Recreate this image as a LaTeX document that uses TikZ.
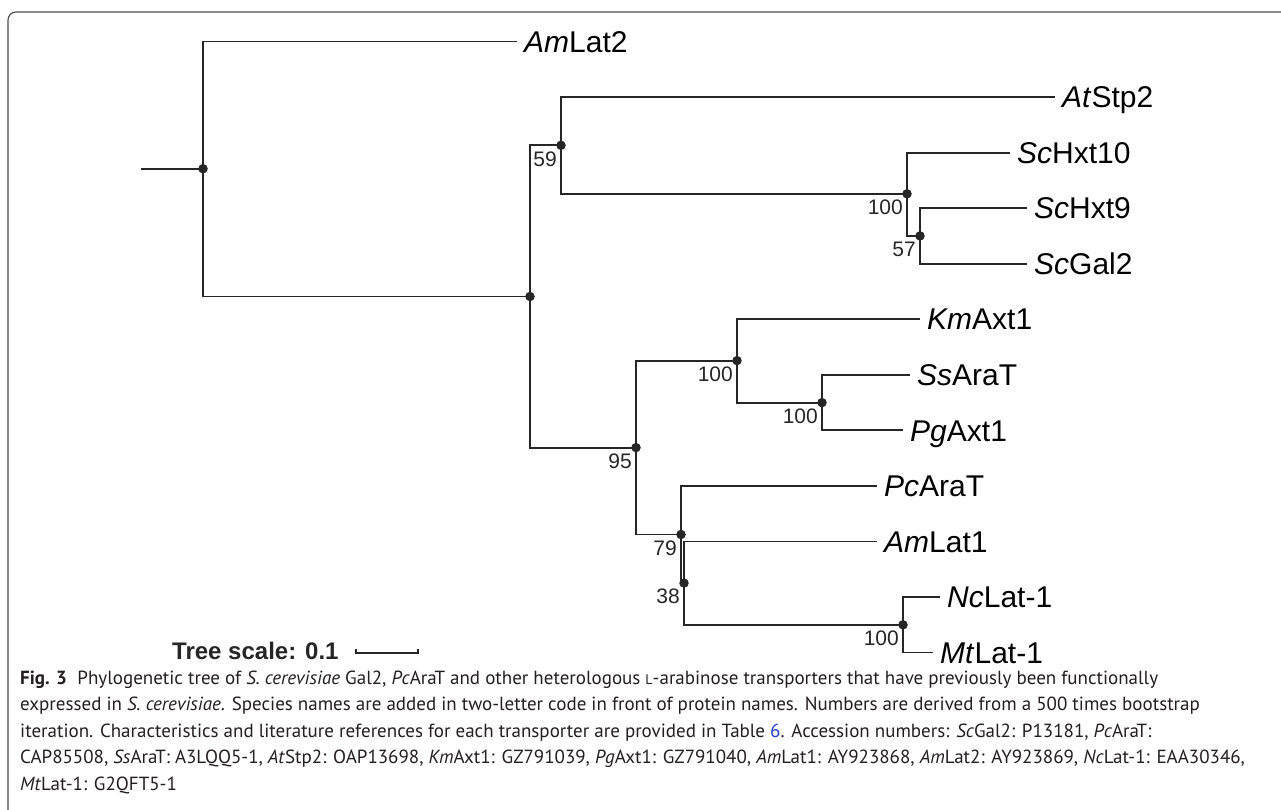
\documentclass[tikz,border=0pt]{standalone}
\usepackage{fontspec}
\setmainfont{Liberation Sans}
\newfontfamily\capfont{PT Sans}
\definecolor{treecol}{HTML}{262626}
\definecolor{framecol}{HTML}{4D4D4D}
\definecolor{capcol}{HTML}{231F20}
\definecolor{linkcol}{HTML}{1F3FD0}
\tikzset{
 branch/.style={draw=treecol, line width=1.8pt},
 dot/.style={circle, fill=treecol, inner sep=0pt, minimum size=9.5pt},
 leaf/.style={anchor=base west, inner sep=0pt, font=\fontsize{30}{36}\selectfont, text=black, xshift=7pt, yshift=-10.7pt},
 boot/.style={anchor=north east, inner sep=0pt, font=\fontsize{21}{25}\selectfont, text=treecol},
 capline/.style={anchor=base west, inner sep=0pt, font=\capfont\fontsize{19}{23}\selectfont, text=capcol},
}
\newcommand{\smL}{{\fontsize{14}{14}\selectfont L}}
\begin{document}
\begin{tikzpicture}[x=1pt,y=-1pt]
\useasboundingbox (0,0) rectangle (1281,809);
% frame
\draw[framecol, line width=1.1pt, rounded corners=8pt] (8,815) -- (8,12) -- (1290,12);
% internal nodes
\node[dot] (root) at (203,168.7) {};
\node[dot] (nB) at (530,296.5) {};
\node[dot] (n59) at (561,145.3) {};
\node[dot] (n100a) at (907,193.8) {};
\node[dot] (n57) at (920,235.9) {};
\node[dot] (n95) at (636,447.6) {};
\node[dot] (n100b) at (737,360.6) {};
\node[dot] (n100c) at (822,402.6) {};
\node[dot] (n79) at (681,534.5) {};
\node[dot] (n38) at (684,583.1) {};
\node[dot] (n100d) at (903,624.8) {};
% leaf ends
\coordinate (stub) at (141,168.7);
\coordinate (eAmLat2) at (517,41.5);
\coordinate (eAtStp2) at (1055,97.05);
\coordinate (eScHxt10) at (1010,152.6);
\coordinate (eScHxt9) at (1027,208.15);
\coordinate (eScGal2) at (1027,263.7);
\coordinate (eKmAxt1) at (920,319.25);
\coordinate (eSsAraT) at (910,374.8);
\coordinate (ePgAxt1) at (903,430.35);
\coordinate (ePcAraT) at (877,485.9);
\coordinate (eAmLat1) at (877,541.45);
\coordinate (eNcLat) at (940,597);
\coordinate (eMtLat) at (933,652.55);
% branches
\draw[branch] (stub) -- (root.center);
\draw[branch] (root.center) |- (eAmLat2);
\draw[branch] (root.center) |- (nB.center);
\draw[branch] (nB.center) |- (n59.center);
\draw[branch] (nB.center) |- (n95.center);
\draw[branch] (n59.center) |- (eAtStp2);
\draw[branch] (n59.center) |- (n100a.center);
\draw[branch] (n100a.center) |- (eScHxt10);
\draw[branch] (n100a.center) |- (n57.center);
\draw[branch] (n57.center) |- (eScHxt9);
\draw[branch] (n57.center) |- (eScGal2);
\draw[branch] (n95.center) |- (n100b.center);
\draw[branch] (n95.center) |- (n79.center);
\draw[branch] (n100b.center) |- (eKmAxt1);
\draw[branch] (n100b.center) |- (n100c.center);
\draw[branch] (n100c.center) |- (eSsAraT);
\draw[branch] (n100c.center) |- (ePgAxt1);
\draw[branch] (n79.center) |- (ePcAraT);
\draw[branch] (n79.center) |- (n38.center);
\draw[branch] (n38.center) |- (eAmLat1);
\draw[branch] (n38.center) |- (n100d.center);
\draw[branch] (n100d.center) |- (eNcLat);
\draw[branch] (n100d.center) |- (eMtLat);
% leaf labels
\node[leaf] (tAmLat2) at (eAmLat2) {\textit{Am}Lat2};
\node[leaf] (tAtStp2) at (eAtStp2) {\textit{At}Stp2};
\node[leaf] (tScHxt10) at (eScHxt10) {\textit{Sc}Hxt10};
\node[leaf] (tScHxt9) at (eScHxt9) {\textit{Sc}Hxt9};
\node[leaf] (tScGal2) at (eScGal2) {\textit{Sc}Gal2};
\node[leaf] (tKmAxt1) at (eKmAxt1) {\textit{Km}Axt1};
\node[leaf] (tSsAraT) at (eSsAraT) {\textit{Ss}AraT};
\node[leaf] (tPgAxt1) at (ePgAxt1) {\textit{Pg}Axt1};
\node[leaf] (tPcAraT) at (ePcAraT) {\textit{Pc}AraT};
\node[leaf] (tAmLat1) at (eAmLat1) {\textit{Am}Lat1};
\node[leaf] (tNcLat) at (eNcLat) {\textit{Nc}Lat-1};
\node[leaf] (tMtLat) at (eMtLat) {\textit{Mt}Lat-1};
% bootstrap values
\node[boot] (b59) at ([xshift=-4pt,yshift=-6pt]n59.center) {59};
\node[boot] (b100a) at ([xshift=-4pt,yshift=-6pt]n100a.center) {100};
\node[boot] (b57) at ([xshift=-4pt,yshift=-6pt]n57.center) {57};
\node[boot] (b100b) at ([xshift=-4pt,yshift=-6pt]n100b.center) {100};
\node[boot] (b100c) at ([xshift=-4pt,yshift=-6pt]n100c.center) {100};
\node[boot] (b95) at ([xshift=-4pt,yshift=-6pt]n95.center) {95};
\node[boot] (b79) at ([xshift=-4pt,yshift=-6pt]n79.center) {79};
\node[boot] (b38) at ([xshift=-4pt,yshift=-6pt]n38.center) {38};
\node[boot] (b100d) at ([xshift=-4pt,yshift=-6pt]n100d.center) {100};
% tree scale
\node[anchor=base west, inner sep=0pt, font=\bfseries\fontsize{24}{29}\selectfont, text=treecol] (ts) at (172,659) {Tree scale: 0.1};
\coordinate (sb1) at (356,653);
\coordinate (sb2) at (418,653);
\draw[treecol, line width=1.2pt] (sb1) -- (sb2);
\draw[treecol, line width=1.2pt] ([yshift=4.5pt]sb1) -- ([yshift=-0.6pt]sb1);
\draw[treecol, line width=1.2pt] ([yshift=4.5pt]sb2) -- ([yshift=-0.6pt]sb2);
% caption
\node[capline] (c1) at (20,684) {\textbf{Fig. 3}\hspace{0.55em}Phylogenetic tree of \textit{S. cerevisiae} Gal2, \textit{Pc}AraT and other heterologous \smL-arabinose transporters that have previously been functionally};
\node[capline] (c2) at (20,710.5) {expressed in \textit{S. cerevisiae}. Species names are added in two-letter code in front of protein names. Numbers are derived from a 500 times bootstrap};
\node[capline] (c3) at (20,737) {iteration. Characteristics and literature references for each transporter are provided in Table \textcolor{linkcol}{6}. Accession numbers: \textit{Sc}Gal2: P13181, \textit{Pc}AraT:};
\node[capline] (c4) at (20,763.5) {CAP85508, \textit{Ss}AraT: A3LQQ5-1, \textit{At}Stp2: OAP13698, \textit{Km}Axt1: GZ791039, \textit{Pg}Axt1: GZ791040, \textit{Am}Lat1: AY923868, \textit{Am}Lat2: AY923869, \textit{Nc}Lat-1: EAA30346,};
\node[capline] (c5) at (20,790) {\textit{Mt}Lat-1: G2QFT5-1};
\end{tikzpicture}
\end{document}
